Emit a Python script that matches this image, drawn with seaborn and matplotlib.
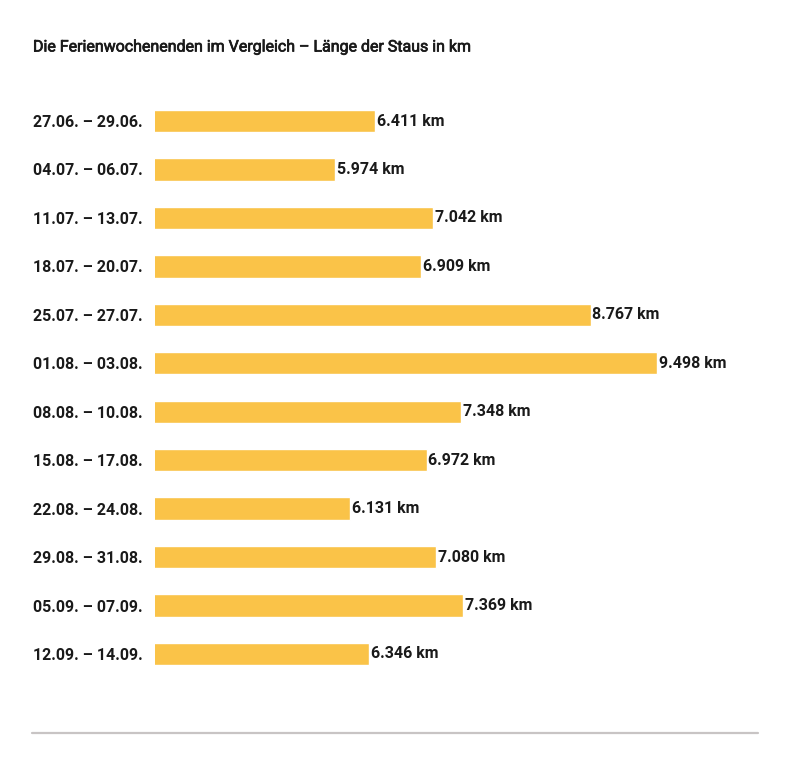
import pandas as pd
import seaborn as sns
import matplotlib.pyplot as plt
import matplotlib.patheffects as pe
from matplotlib.lines import Line2D

# Ferienwochenenden und Staulängen in km
weekends = ['27.06. – 29.06.', '04.07. – 06.07.', '11.07. – 13.07.', '18.07. – 20.07.',
            '25.07. – 27.07.', '01.08. – 03.08.', '08.08. – 10.08.', '15.08. – 17.08.',
            '22.08. – 24.08.', '29.08. – 31.08.', '05.09. – 07.09.', '12.09. – 14.09.']
stau_km = [6411, 5974, 7042, 6909, 8767, 9498, 7348, 6972, 6131, 7080, 7369, 6346]

df = pd.DataFrame({'weekend': weekends, 'km': stau_km})

sns.set_theme(style='white')
plt.rcParams['font.family'] = ['Roboto', 'DejaVu Sans']

fig = plt.figure(figsize=(7.91, 7.68), dpi=100)
ax = fig.add_axes([155 / 791, 1 - 678.2 / 768, (758 - 155) / 791, (678.2 - 96.8) / 768])

sns.barplot(data=df, x='km', y='weekend', color='#fac348', saturation=1,
            width=0.46, ax=ax)

ax.set_xlim(4000, 10600)
ax.set_ylim(11.5, -0.5)
ax.set_xlabel('')
ax.set_ylabel('')
ax.set_xticks([])
sns.despine(ax=ax, left=True, bottom=True)

ax.tick_params(axis='y', length=0, pad=122 * 72 / 100, labelsize=11.5)
for lbl in ax.get_yticklabels():
    lbl.set_ha('left')
    lbl.set_fontweight('bold')
    lbl.set_color('#1a1a1a')

for i, v in enumerate(stau_km):
    txt = f'{v:,}'.replace(',', '.') + ' km'
    ax.text(v + 20, i, txt, va='center', ha='left', fontsize=11.5,
            fontweight='bold', color='#1a1a1a')

# Titel etwas kräftiger als normal (medium)
fig.text(33 / 791, 1 - 47 / 768, 'Die Ferienwochenenden im Vergleich – Länge der Staus in km',
         ha='left', va='center', fontsize=11.5, color='#1a1a1a',
         path_effects=[pe.withStroke(linewidth=0.5, foreground='#1a1a1a')])

fig.add_artist(Line2D([32 / 791, 758 / 791], [1 - 733 / 768, 1 - 733 / 768],
                      color='#c8c4c4', lw=1.6))

fig.savefig('out.png', dpi=100, facecolor='white')
